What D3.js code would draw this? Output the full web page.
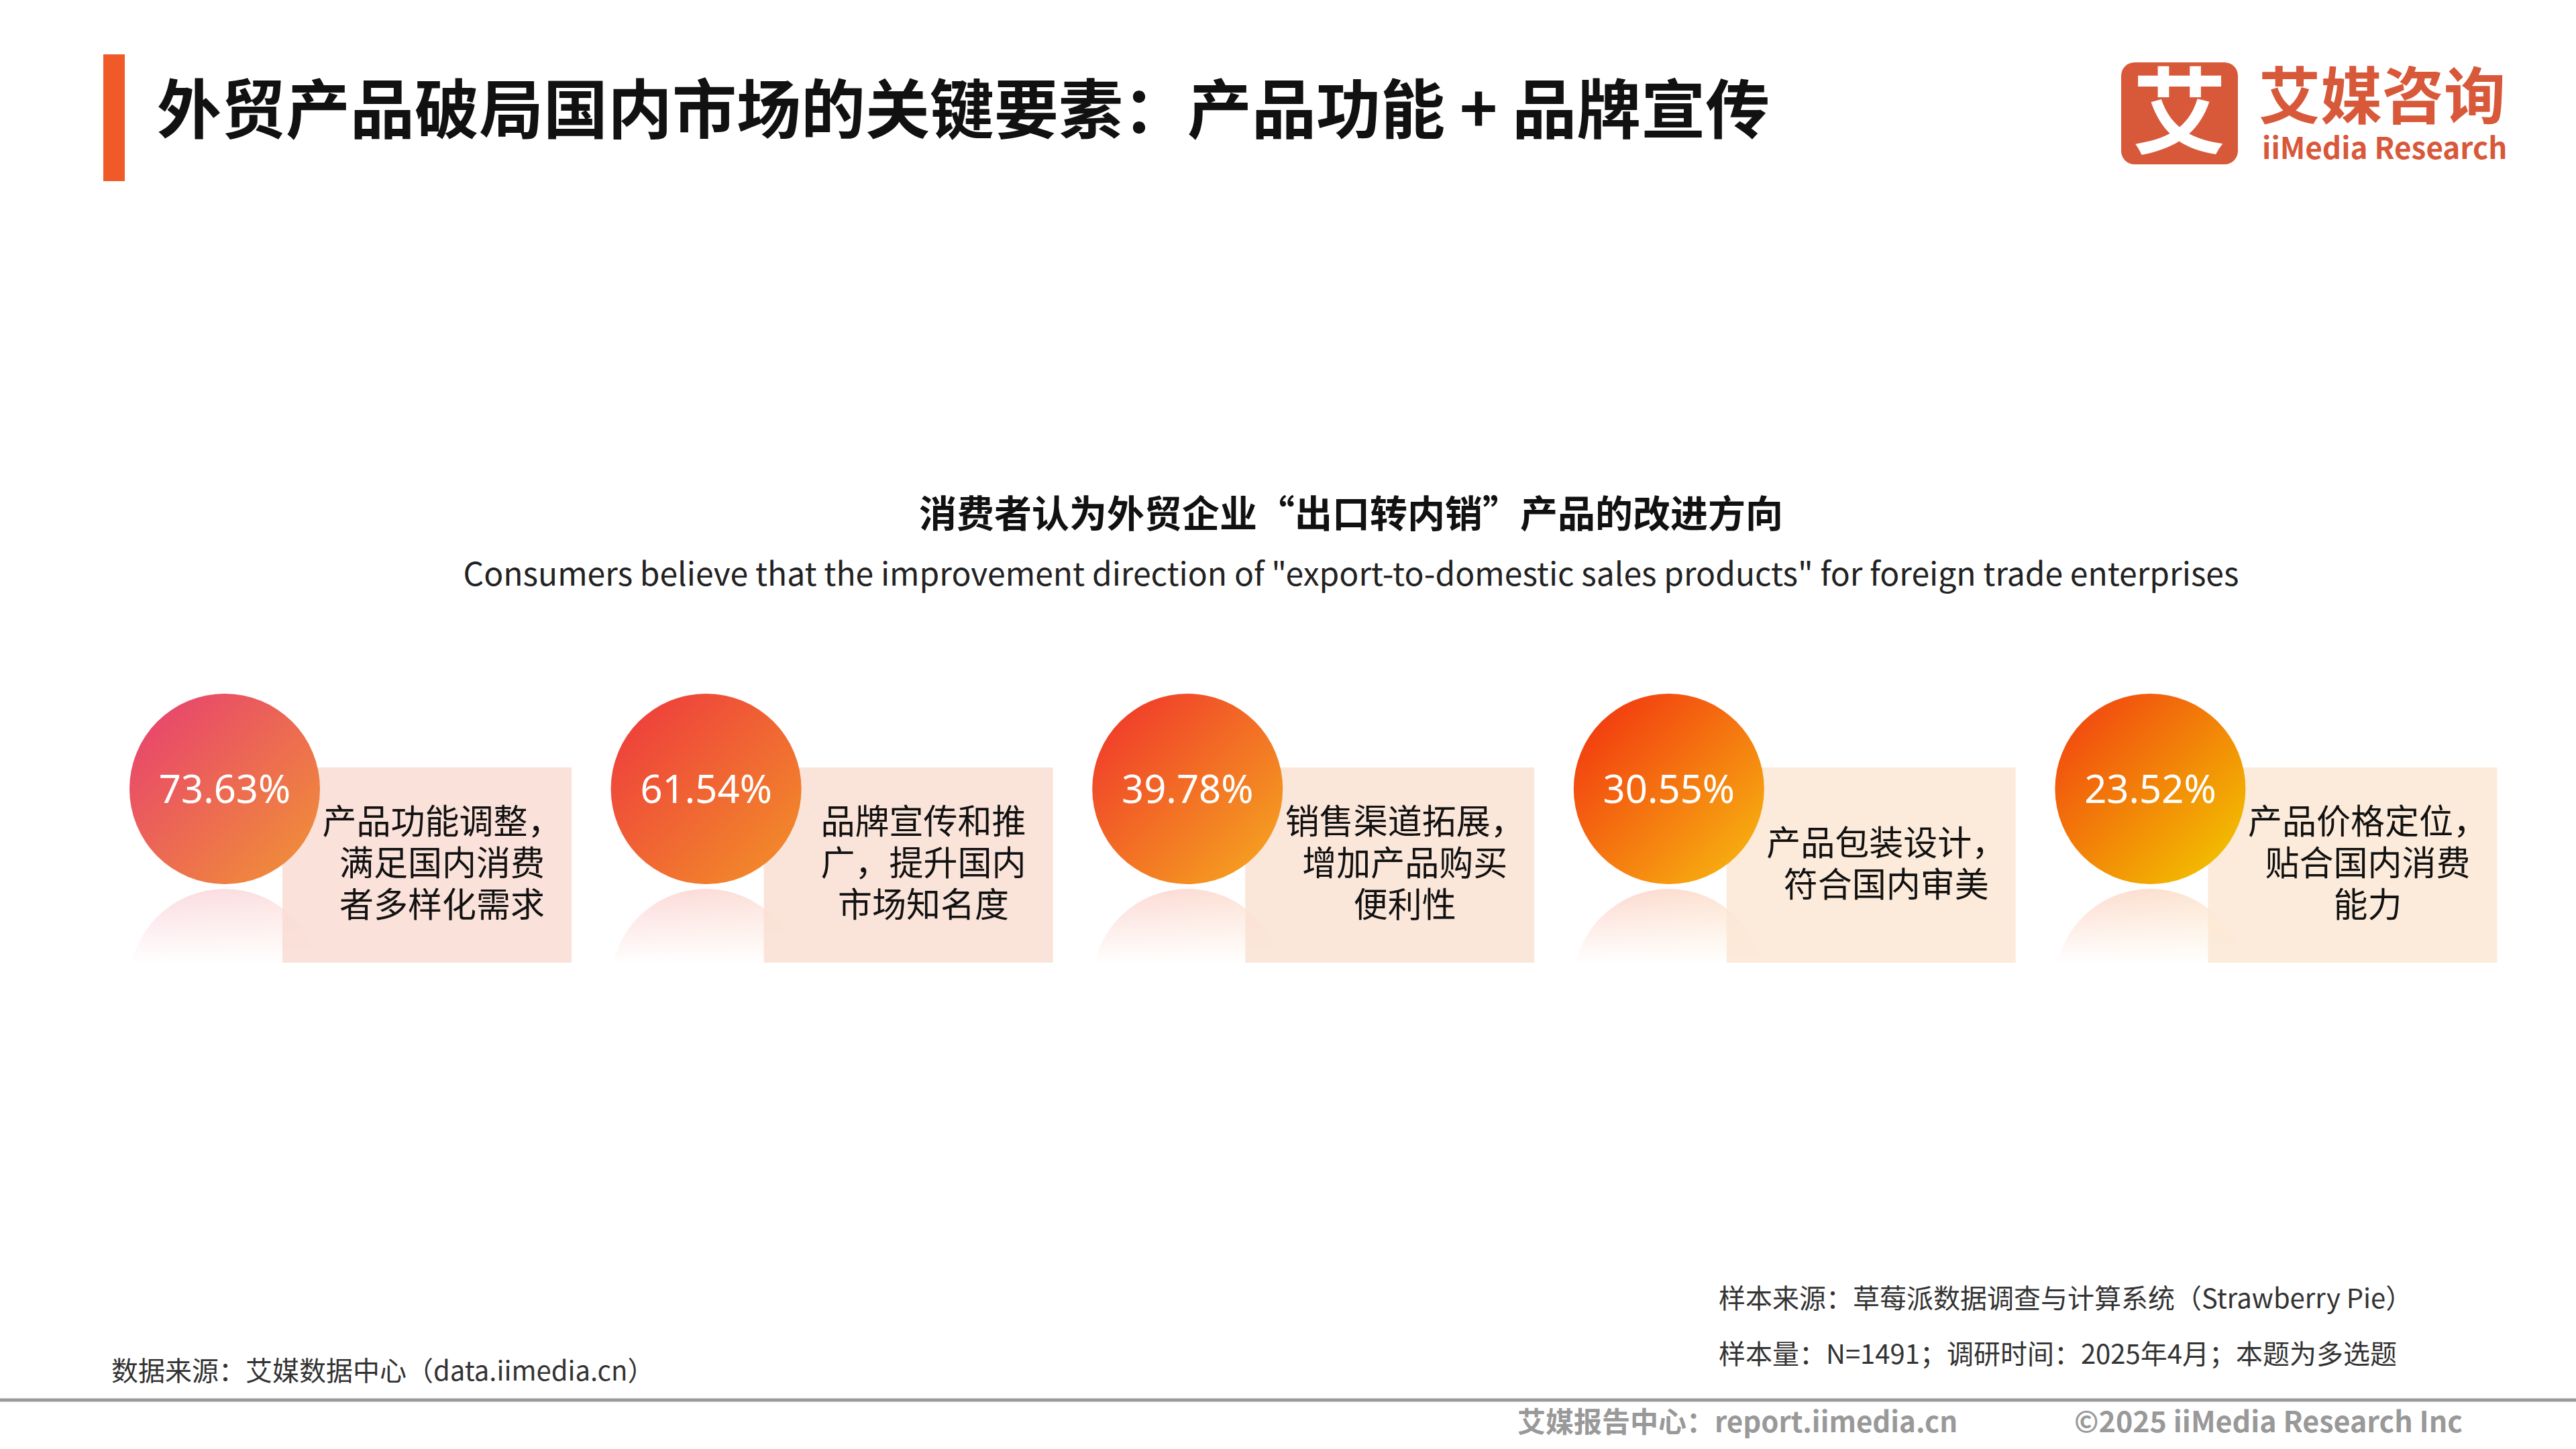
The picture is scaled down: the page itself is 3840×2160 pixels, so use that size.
<!DOCTYPE html>
<html><head><meta charset="utf-8">
<script src="https://cdn.jsdelivr.net/npm/d3@7"></script>
<style>body{margin:0;background:#fff}</style>
</head><body>
<script>
// data
var values = [73.63, 61.54, 39.78, 30.55, 23.52];
var labels = [
  ["产品功能调整，", "满足国内消费", "者多样化需求"],
  ["品牌宣传和推", "广，提升国内", "市场知名度"],
  ["销售渠道拓展，", "增加产品购买", "便利性"],
  ["产品包装设计，", "符合国内审美"],
  ["产品价格定位，", "贴合国内消费", "能力"]
];
var colorsFrom = ["#e8466c", "#ee3f3c", "#f03c2a", "#f23a10", "#f24810"];
var colorsTo   = ["#f08c3a", "#f28a2a", "#f5a020", "#f7b010", "#f2c000"];
var boxColors  = ["#f9dcd3", "#f9dfd4", "#fae2d4", "#fbe6d4", "#fbe8d4"];

var W = 3840, H = 2160;
var font = "'Noto Sans CJK SC','Noto Sans',sans-serif";
var svg = d3.select("body").append("svg").attr("width", W).attr("height", H)
  .style("font-family", font);
var defs = svg.append("defs");

// header
svg.append("rect").attr("x", 154).attr("y", 81).attr("width", 32).attr("height", 189).attr("fill", "#f05a28");
svg.append("text").attr("x", 234).attr("y", 198).attr("font-size", 96).attr("font-weight", 700)
  .attr("fill", "#111").text("外贸产品破局国内市场的关键要素：产品功能 + 品牌宣传");

// logo
var logo = svg.append("g").attr("transform", "translate(3162,93)");
logo.append("rect").attr("width", 174).attr("height", 152).attr("rx", 20).attr("fill", "#d8583a");
logo.append("text").attr("x", 87).attr("y", 125).attr("text-anchor", "middle").attr("font-size", 140)
  .attr("font-weight", 700).attr("fill", "#fff").text("艾");
logo.append("text").attr("x", 205).attr("y", 84).attr("font-size", 92).attr("font-weight", 700)
  .attr("fill", "#d8583a").text("艾媒咨询");
logo.append("text").attr("x", 210).attr("y", 144).attr("font-size", 44).attr("font-weight", 700)
  .attr("fill", "#d8583a").text("iiMedia Research");

// chart titles
var cx0 = 2014;
svg.append("text").attr("x", cx0).attr("y", 786).attr("text-anchor", "middle").attr("font-size", 56)
  .attr("font-weight", 700).attr("fill", "#111").text("消费者认为外贸企业“出口转内销”产品的改进方向");
svg.append("text").attr("x", cx0).attr("y", 873).attr("text-anchor", "middle").attr("font-size", 48)
  .attr("fill", "#222").text("Consumers believe that the improvement direction of \"export-to-domestic sales products\" for foreign trade enterprises");

// layout scale
var x = d3.scaleBand().domain(d3.range(values.length)).range([155, 155 + 5 * 717.6]);
var r = 142, cy = 1176;

var fade = defs.append("linearGradient").attr("id", "fade").attr("x1", 0).attr("y1", 0).attr("x2", 0).attr("y2", 1);
fade.append("stop").attr("offset", 0).attr("stop-color", "#fff").attr("stop-opacity", 0.45);
fade.append("stop").attr("offset", 1).attr("stop-color", "#fff").attr("stop-opacity", 1);

values.forEach(function(v, i) {
  var g = defs.append("linearGradient").attr("id", "g" + i)
    .attr("x1", 0.1).attr("y1", 0.1).attr("x2", 0.9).attr("y2", 0.9);
  g.append("stop").attr("offset", 0).attr("stop-color", colorsFrom[i]);
  g.append("stop").attr("offset", 1).attr("stop-color", colorsTo[i]);
  var clip = defs.append("clipPath").attr("id", "c" + i);
  clip.append("rect").attr("x", -r - 10).attr("y", 1325).attr("width", 2 * r + 20).attr("height", 110);
});

var items = svg.selectAll(".item").data(values).enter().append("g").attr("class", "item")
  .attr("transform", function(d, i) { return "translate(" + (x(i) + 180) + ",0)"; });

// reflection
var refl = items.append("g").attr("clip-path", function(d, i) { return "url(#c" + i + ")"; });
refl.append("circle").attr("cx", 0).attr("cy", 1325 + r).attr("r", r)
  .attr("fill", function(d, i) { return "url(#g" + i + ")"; }).attr("opacity", 0.35);
refl.append("rect").attr("x", -r - 10).attr("y", 1325).attr("width", 2 * r + 20).attr("height", 112)
  .attr("fill", "url(#fade)");

items.append("rect").attr("x", 86).attr("y", 1144).attr("width", 431).attr("height", 291)
  .attr("fill", function(d, i) { return boxColors[i]; }).attr("opacity", 0.85);

items.append("circle").attr("cx", 0).attr("cy", cy).attr("r", r)
  .attr("fill", function(d, i) { return "url(#g" + i + ")"; });
items.append("text").attr("x", 0).attr("y", cy + 21).attr("text-anchor", "middle")
  .attr("font-size", 58).attr("fill", "#fff").attr("font-family", "'Noto Sans',sans-serif")
  .text(function(d) { return d.toFixed(2) + "%"; });

items.each(function(d, i) {
  var lines = labels[i];
  var start = lines.length === 2 ? 1275 : 1243;
  var t = d3.select(this).append("text").attr("text-anchor", "middle").attr("font-size", 51).attr("fill", "#111");
  lines.forEach(function(l, j) {
    t.append("tspan").attr("x", 324).attr("y", start + j * 62).text(l);
  });
});

// footer
svg.append("text").attr("x", 2562).attr("y", 1950).attr("font-size", 40).attr("fill", "#333")
  .text("样本来源：草莓派数据调查与计算系统（Strawberry Pie）");
svg.append("text").attr("x", 2562).attr("y", 2033).attr("font-size", 40).attr("fill", "#333")
  .text("样本量：N=1491；调研时间：2025年4月；本题为多选题");
svg.append("text").attr("x", 166).attr("y", 2058).attr("font-size", 40).attr("fill", "#333")
  .text("数据来源：艾媒数据中心（data.iimedia.cn）");
svg.append("line").attr("x1", 0).attr("x2", W).attr("y1", 2087).attr("y2", 2087)
  .attr("stroke", "#999").attr("stroke-width", 5);
svg.append("text").attr("x", 2262).attr("y", 2135).attr("font-size", 42).attr("font-weight", 700).attr("fill", "#999")
  .text("艾媒报告中心：report.iimedia.cn");
svg.append("text").attr("x", 3092).attr("y", 2135).attr("font-size", 43).attr("font-weight", 700).attr("fill", "#999")
  .text("©2025  iiMedia Research  Inc");
</script>
</body></html>
